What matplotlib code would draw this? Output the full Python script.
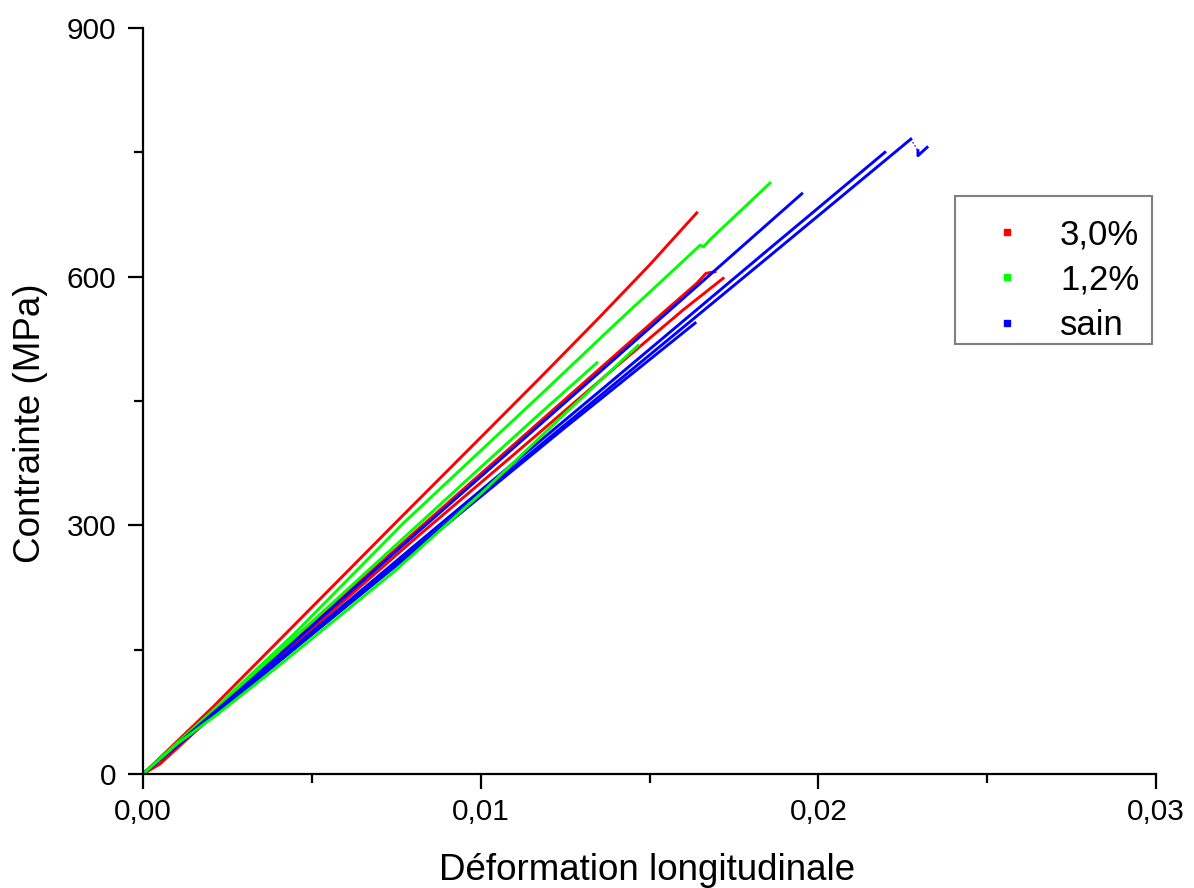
import matplotlib
matplotlib.use("Agg")
import matplotlib.pyplot as plt
from matplotlib.lines import Line2D
from matplotlib.patches import Rectangle
from matplotlib.ticker import MultipleLocator, FixedLocator

plt.rcParams['font.family'] = ['Liberation Sans', 'DejaVu Sans']

# ---- data ----
# 3,0 % series (red)
r1_x = [0, 0.0021, 0.0040, 0.00755, 0.0100, 0.01176, 0.01347, 0.0150, 0.0164]
r1_y = [0, 82, 160, 306, 406, 478, 549, 614, 677]
r2_x = [0, 0.0020, 0.0050, 0.0080, 0.0110, 0.0135, 0.0155, 0.0164, 0.01667, 0.01694]
r2_y = [0, 72, 180, 290, 398, 488, 560, 592, 604, 606]
r3_x = [0, 0.0005, 0.0020, 0.0050, 0.0080, 0.0110, 0.0140, 0.0160, 0.01718]
r3_y = [0, 12, 68, 175, 282, 386, 491, 560, 598]

# 1,2 % series (green)
ga_x = [0, 0.0020, 0.0045, 0.00772, 0.0100, 0.01176, 0.01412, 0.0155, 0.0165, 0.0166, 0.0168, 0.01857]
ga_y = [0, 74, 170, 303, 390, 457, 548, 600, 638, 636, 645, 713]
gb_x = [0, 0.0020, 0.0045, 0.00829, 0.0100, 0.01176, 0.01344]
gb_y = [0, 72, 165, 306, 370, 435, 496]
gc_x = [0, 0.0010, 0.0022, 0.0040, 0.0074, 0.0100, 0.0125, 0.01466]
gc_y = [0, 36, 72, 130, 243, 338, 435, 517]

# sain series (blue)
b1_x = [0, 0.0030, 0.0080, 0.0135, 0.0185, 0.02274]
b1_y = [0, 101, 270, 455, 623, 766]
b1_tail_x = [0.02295, 0.02295, 0.02322]
b1_tail_y = [752, 746, 756]
b1_gap_x = [0.02274, 0.02295]
b1_gap_y = [766, 752]
b2_x = [0, 0.0030, 0.0080, 0.0135, 0.0185, 0.02197]
b2_y = [0, 103, 274, 461, 632, 750]
b3_x = [0, 0.0030, 0.0080, 0.0135, 0.01951]
b3_y = [0, 106, 287, 484, 700]
b4_x = [0, 0.0030, 0.0080, 0.0125, 0.01635]
b4_y = [0, 102, 268, 418, 544]

labels = ['3,0%', '1,2%', 'sain']
colors = ['#ff0000', '#00ff00', '#0000ff']

x_ticks = [0, 0.01, 0.02, 0.03]
x_ticklabels = ['0,00', '0,01', '0,02', '0,03']
y_ticks = [0, 300, 600, 900]
y_ticklabels = ['0', '300', '600', '900']

# ---- figure ----
W, H = 1194, 888
fig = plt.figure(figsize=(W / 100, H / 100), dpi=100)
ax = fig.add_axes([143 / W, 1 - 774 / H, (1156 - 143) / W, (774 - 28) / H])

lw = 2.1
for xs, ys in [(r1_x, r1_y), (r2_x, r2_y), (r3_x, r3_y)]:
    ax.plot(xs, ys, color=colors[0], lw=lw)
for xs, ys in [(ga_x, ga_y), (gb_x, gb_y)]:
    ax.plot(xs, ys, color=colors[1], lw=lw)
for xs, ys in [(b1_x, b1_y), (b2_x, b2_y), (b3_x, b3_y), (b4_x, b4_y), (b1_tail_x, b1_tail_y)]:
    ax.plot(xs, ys, color=colors[2], lw=lw)
ax.plot(b1_gap_x, b1_gap_y, color=colors[2], lw=1.0, ls=':')
ax.plot(gc_x, gc_y, color=colors[1], lw=lw)

ax.set_xlim(0, 0.03)
ax.set_ylim(0, 900)
ax.xaxis.set_major_locator(FixedLocator(x_ticks))
ax.set_xticklabels(x_ticklabels)
ax.yaxis.set_major_locator(FixedLocator(y_ticks))
ax.set_yticklabels(y_ticklabels)
ax.xaxis.set_minor_locator(MultipleLocator(0.005))
ax.yaxis.set_minor_locator(MultipleLocator(150))

for s in ['top', 'right']:
    ax.spines[s].set_visible(False)
for s in ['left', 'bottom']:
    ax.spines[s].set_linewidth(1.6)
    ax.spines[s].set_color('black')

ax.tick_params(which='major', direction='out', length=11, width=1.6, labelsize=21.5)
ax.tick_params(which='minor', direction='out', length=6.5, width=1.6)
ax.tick_params(axis='x', which='major', pad=6)
ax.tick_params(axis='y', which='major', pad=8)

ax.set_xlabel('Déformation longitudinale', fontsize=26.5)
ax.set_ylabel('Contrainte (MPa)', fontsize=26.5)
ax.xaxis.set_label_coords(0.498, -0.106)
ax.yaxis.set_label_coords(-0.094, 0.4705)

handles = [Line2D([], [], marker='s', ls='none', color=c, markersize=4.5) for c in colors]
leg = ax.legend(handles, labels, loc='upper left',
                bbox_to_anchor=(972.3 / W, 1 - 218 / H), bbox_transform=fig.transFigure,
                fontsize=25, frameon=False, borderaxespad=0, borderpad=0,
                handlelength=2.0, handletextpad=0.53, labelspacing=0.36)
frame = Rectangle((955 / W, 1 - 344 / H), 197 / W, 148 / H, transform=fig.transFigure,
                  fill=False, edgecolor='#808080', linewidth=1.5)
fig.add_artist(frame)

fig.savefig('out.png', dpi=100)
